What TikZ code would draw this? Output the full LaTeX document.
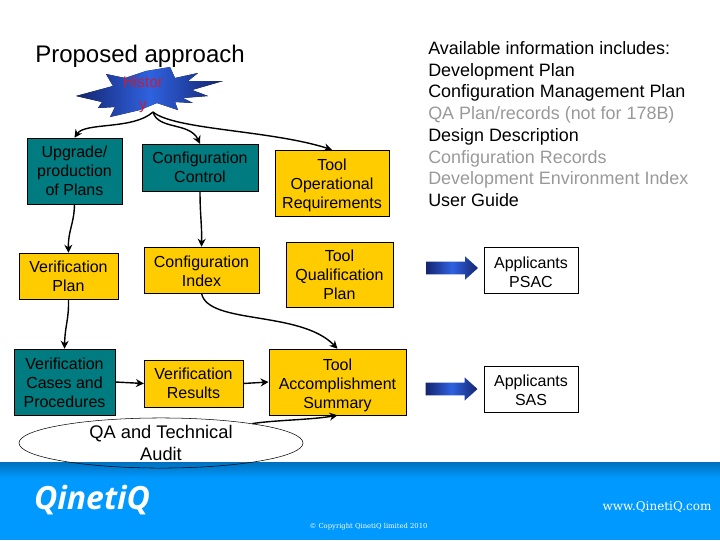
\documentclass[tikz,border=0pt]{standalone}
\usepackage{fontspec}
\usepackage{tikz}
\usetikzlibrary{arrows.meta, shapes.geometric, shapes.arrows}
\setmainfont{Liberation Sans}
\newfontfamily\logofont{Open Sans}
\newfontfamily\footfont{DejaVu Serif}
\definecolor{tealbox}{HTML}{007C80}
\definecolor{yellowbox}{HTML}{FFCC00}
\definecolor{banner}{HTML}{0099FF}
\definecolor{bannertop}{HTML}{0070BC}
\definecolor{dimtext}{HTML}{999999}
\definecolor{burst}{HTML}{2F62E0}
\definecolor{burstedge}{HTML}{14246E}
\definecolor{historytext}{HTML}{C41E3A}

\begin{document}
\begin{tikzpicture}[x=0.75pt,y=-0.75pt,align=center,
  box/.style={draw,inner sep=0pt,font=\fontsize{12}{14.25}\selectfont},
  teal/.style={box,fill=tealbox},
  yellow/.style={box,fill=yellowbox},
  link/.style={line width=1.05pt,-{Stealth[length=6pt,width=6pt]}},
  blockarrow/.style={single arrow,inner xsep=0pt,inner ysep=4.5pt,minimum width=17.5pt,minimum height=39pt,
    single arrow head extend=4pt,single arrow tip angle=84,
    left color=burstedge,right color=burstedge,middle color=burst}]
\useasboundingbox (0,0) rectangle (720,540);
\fill[top color=bannertop,bottom color=banner] (0,462) rectangle (720,478);
\fill[banner] (0,478) rectangle (720,540);
\node[font=\fontsize{18}{22}\selectfont,anchor=west,inner sep=0pt] (Title) at (35,56) {Proposed approach};
% burst
\fill[left color=burstedge,right color=burstedge,middle color=burst]
  (76,96) -- (113,86) -- (106,74) -- (125,78) -- (146,71) -- (170,67) -- (175,78)
  -- (198,73) -- (188,81) -- (223,81) -- (192,90) -- (208,96) -- (183,98) -- (193,103)
  -- (175,102) -- (178,110) -- (157,103) -- (140,110) -- (110,117) -- (115,107)
  -- (98,108) -- (102,102) -- cycle;
\node[font=\fontsize{11.5}{16.5}\selectfont,text=historytext,inner sep=0pt] (History) at (143,95) {Histor\\y};
\coordinate (HistoryFoot) at (153,112);
% boxes
\node[teal,minimum width=71pt,minimum height=49.5pt] (Upgrade) at (74.5,171) {Upgrade/\\production\\of Plans};
\node[teal,minimum width=87pt,minimum height=35pt] (ConfControl) at (200,167.5) {Configuration\\Control};
\node[yellow,minimum width=85.5pt,minimum height=49.5pt] (ToolOp) at (332,183) {\rule{0pt}{12pt}Tool\\Operational\\Requirements};
\node[yellow,minimum width=74pt,minimum height=34.5pt] (VerPlan) at (68.5,276) {Verification\\Plan};
\node[yellow,minimum width=86pt,minimum height=34.5pt] (ConfIndex) at (201.5,270) {\rule{0pt}{10pt}Configuration\\Index};
\node[yellow,minimum width=80pt,minimum height=49pt] (ToolQual) at (339.5,274.5) {Tool\\Qualification\\Plan};
\node[teal,minimum width=76pt,minimum height=49.5pt] (VerCases) at (64.5,382) {\rule{0pt}{10pt}Verification\\Cases and\\Procedures};
\node[yellow,minimum width=74pt,minimum height=35pt] (VerResults) at (193.5,383.5) {Verification\\Results};
\node[yellow,minimum width=103pt,minimum height=49.5pt] (ToolAcc) at (337.5,382) {\rule{0pt}{13pt}Tool\\Accomplishment\\Summary};
\node[box,minimum width=70.5pt,minimum height=34.5pt] (Psac) at (531,270) {\rule{0pt}{12pt}Applicants\\PSAC};
\node[box,minimum width=70.5pt,minimum height=34.5pt] (Sas) at (531,389) {\rule{0pt}{10pt}Applicants\\SAS};
\node[blockarrow] (PsacArrow) at (448.5,268) {};
\node[blockarrow] (SasArrow) at (448,389) {};
\node[draw,ellipse,inner sep=0pt,minimum width=213pt,minimum height=28pt,
  font=\fontsize{13.7}{16.5}\selectfont] (Audit) at (161,443) {QA and Technical\\Audit};
% list of information
\node[anchor=west,align=left,inner sep=0pt,font=\fontsize{13.45}{16.3}\selectfont] (Info) at (428,124) {Available information includes:\\
Development Plan\\
Configuration Management Plan\\
\textcolor{dimtext}{QA Plan/records (not for 178B)}\\
Design Description\\
\textcolor{dimtext}{Configuration Records}\\
\textcolor{dimtext}{Development Environment Index}\\
User Guide};
% connectors
\draw[link] (HistoryFoot) .. controls (133,130) and (85,122) .. (Upgrade.north);
\draw[link] (HistoryFoot) .. controls (158,130) and (190,122) .. (ConfControl.north);
\draw[link] (HistoryFoot) .. controls (175,130) and (270,130) .. (ToolOp.north);
\draw[link] (Upgrade.south) .. controls (74,225) and (68,230) .. (VerPlan.north);
\draw[link] (ConfControl.south) .. controls (200,215) and (202,225) .. (ConfIndex.north);
\draw[link] (ConfIndex.south) .. controls (208,325) and (300,310) .. (ToolAcc.north);
\draw[link] (VerPlan.south) .. controls (69,320) and (65,325) .. (VerCases.north);
\draw[link] (VerCases.east) -- (VerResults.west);
\draw[link] (VerResults.east) -- (ToolAcc.west);
\draw[link] (Audit.12) .. controls (275,420) and (310,420) .. (ToolAcc.south);
% footer
\node[text=white,inner sep=0pt,font=\logofont\bfseries\itshape\fontsize{24}{26}\selectfont] (Logo) at (92,500) {QinetiQ};
\node[text=white,inner sep=0pt,font=\footfont\fontsize{9}{11}\selectfont] (Url) at (657,507) {www.QinetiQ.com};
\node[text=white,inner sep=0pt,font=\footfont\fontsize{5.1}{6}\selectfont] (Copy) at (368.5,527) {© Copyright QinetiQ limited 2010};
\end{tikzpicture}
\end{document}
